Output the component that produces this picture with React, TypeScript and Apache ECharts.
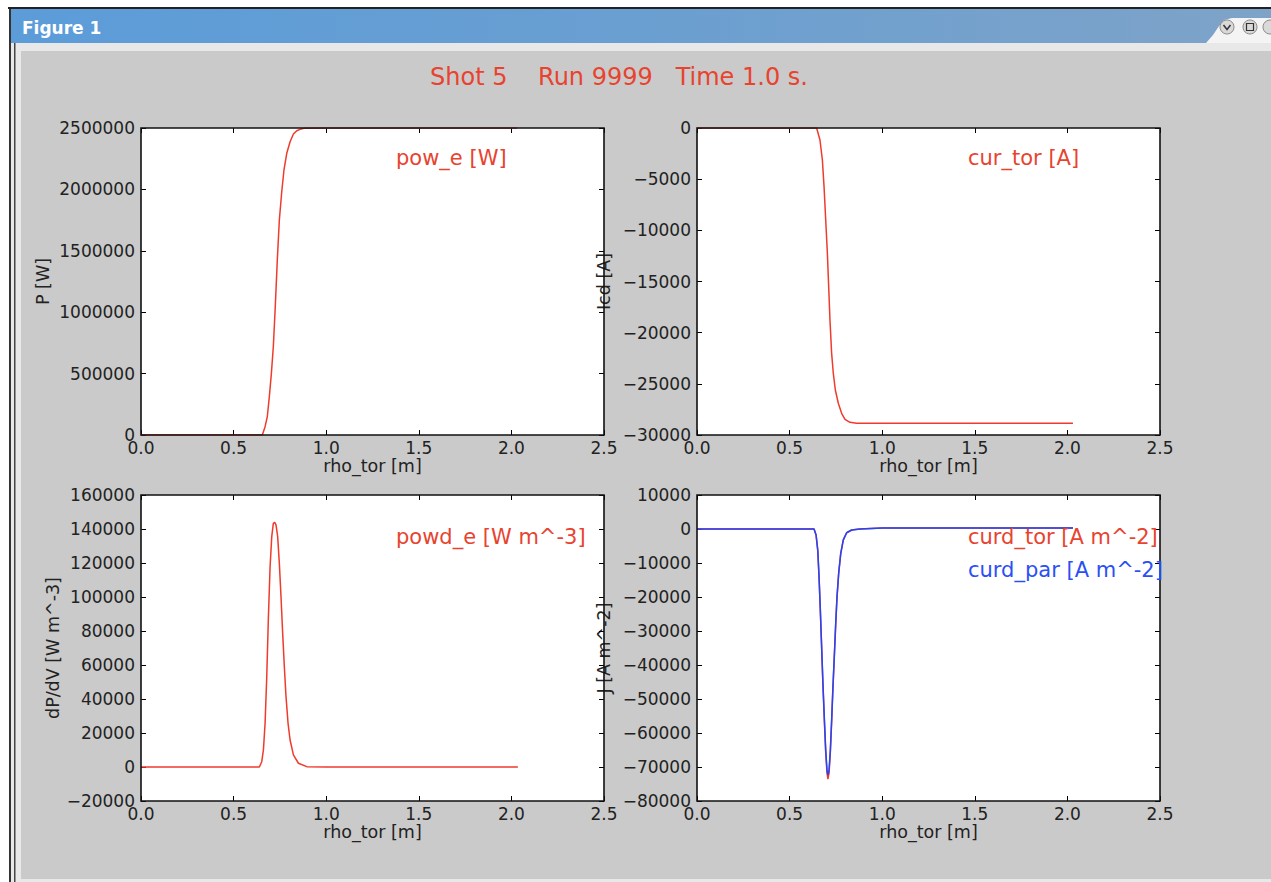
import React, { useEffect, useRef } from "react";
import * as echarts from "echarts";

// ---- data ----
const rhoPow = [0, 0.5, 0.655, 0.670, 0.682, 0.693, 0.704, 0.7145, 0.725, 0.736, 0.747, 0.760, 0.772, 0.787, 0.805, 0.823, 0.841, 0.859, 0.88, 1.0, 1.5, 2.03];
const powE = [0, 0, 0, 67600, 149000, 312000, 502000, 719000, 1045000, 1425000, 1751000, 1981000, 2158000, 2294000, 2388000, 2451000, 2478000, 2489000, 2497000, 2500000, 2500000, 2500000];

const rhoCur = [0, 0.5, 0.646, 0.664, 0.677, 0.686, 0.695, 0.704, 0.711, 0.718, 0.727, 0.736, 0.747, 0.763, 0.781, 0.799, 0.826, 0.862, 1.0, 1.5, 2.03];
const curTor = [0, 0, 0, -1170, -3130, -5730, -8990, -12240, -15500, -18760, -22020, -23970, -25600, -26900, -27880, -28470, -28760, -28860, -28860, -28850, -28850];

const rhoPowd = [0, 0.5, 0.639, 0.652, 0.661, 0.670, 0.679, 0.688, 0.697, 0.706, 0.7145, 0.722, 0.729, 0.738, 0.747, 0.756, 0.765, 0.774, 0.783, 0.794, 0.805, 0.823, 0.850, 0.895, 1.0, 1.5, 2.035];
const powdE = [0, 0, 0, 3100, 10000, 25700, 53100, 88400, 117800, 135500, 143300, 143900, 142400, 135500, 119800, 100200, 78600, 59000, 41400, 25700, 15900, 7100, 2200, 200, 0, 0, 0];

const rhoJ = [0, 0.5, 0.632, 0.643, 0.652, 0.659, 0.666, 0.673, 0.680, 0.688, 0.695, 0.702, 0.707, 0.713, 0.720, 0.727, 0.734, 0.742, 0.749, 0.756, 0.765, 0.776, 0.790, 0.808, 0.835, 0.880, 1.0, 1.5, 2.03];
const curdTor = [0, 0, 0, -1800, -6300, -14200, -24100, -35000, -45900, -56800, -65700, -71800, -73600, -71800, -65700, -56800, -46900, -37000, -28000, -20100, -13100, -7300, -3200, -1100, -300, 0, 300, 300, 300];
const curdPar = [0, 0, 0, -1760, -6180, -14000, -23800, -34600, -45400, -56200, -65000, -70900, -72400, -70900, -65000, -56200, -46400, -36600, -27700, -19900, -13000, -7200, -3200, -1100, -300, 0, 300, 300, 300];

const xTicks = { min: 0, max: 2.5, interval: 0.5 };
const yRanges = [
  [0, 2500000, 500000],
  [-30000, 0, 5000],
  [-20000, 160000, 20000],
  [-80000, 10000, 10000],
];
const xName = "rho_tor [m]";
const yNames = ["P [W]", "Icd [A]", "dP/dV [W m^-3]", "J [A m^-2]"];
const titleText = "Shot 5    Run 9999   Time 1.0 s.";
const windowTitle = "Figure 1";

// ---- styling ----
const FONT = "'DejaVu Sans', sans-serif";
const RED = "#ef3b2c";
const RED_TXT = "#e8432f";
const BLUE = "#1f45ff";
const BLUE_TXT = "#2a4ff5";
const CANVAS = "#cacaca";
const TICK_FS = 17;
const NAME_FS = 17.5;
const ANN_FS = 21;

const grids = [
  { left: 141, top: 128, width: 463, height: 307 },
  { left: 697, top: 128, width: 463, height: 307 },
  { left: 141, top: 495, width: 463, height: 306 },
  { left: 697, top: 495, width: 463, height: 306 },
];
const yNameGaps = [89, 84, 79, 84];

const zip = (xs: number[], ys: number[]) => xs.map((x, i) => [x, ys[i]]);
const fmtY = (v: number) => String(v).replace("-", "\u2212");

export default function App() {
  const ref = useRef<HTMLDivElement>(null);
  useEffect(() => {
    if (!ref.current) return;
    const chart = echarts.init(ref.current, null, { renderer: "svg" });
    const tick = { inside: true, length: 5, lineStyle: { color: "#000", width: 1 } };
    const xAxis: any[] = [];
    const yAxis: any[] = [];
    grids.forEach((g, i) => {
      xAxis.push({
        gridIndex: i, type: "value", ...xTicks, position: "bottom",
        name: xName, nameLocation: "middle", nameGap: 22,
        nameTextStyle: { fontFamily: FONT, fontSize: NAME_FS, color: "#222" },
        axisLine: { show: false, onZero: false }, axisTick: tick,
        axisLabel: { fontFamily: FONT, fontSize: TICK_FS, color: "#222", margin: 4, showMinLabel: true, showMaxLabel: true, formatter: (v: number) => v.toFixed(1) },
        splitLine: { show: false },
      });
      xAxis.push({
        gridIndex: i, type: "value", ...xTicks, position: "top",
        axisLine: { show: false, onZero: false }, axisTick: tick,
        axisLabel: { show: false }, splitLine: { show: false },
      });
      const [mn, mx, iv] = yRanges[i];
      yAxis.push({
        gridIndex: i, type: "value", min: mn, max: mx, interval: iv, position: "left",
        name: yNames[i], nameLocation: "middle", nameGap: yNameGaps[i],
        nameTextStyle: { fontFamily: FONT, fontSize: NAME_FS, color: "#222" },
        axisLine: { show: false, onZero: false }, axisTick: tick,
        axisLabel: { fontFamily: FONT, fontSize: TICK_FS, color: "#222", margin: 6, showMinLabel: true, showMaxLabel: true, formatter: fmtY },
        splitLine: { show: false },
      });
      yAxis.push({
        gridIndex: i, type: "value", min: mn, max: mx, interval: iv, position: "right",
        axisLine: { show: false, onZero: false }, axisTick: tick,
        axisLabel: { show: false }, splitLine: { show: false },
      });
    });

    const line = (idx: number, data: number[][], color: string, z = 2) => ({
      type: "line", xAxisIndex: 2 * idx, yAxisIndex: 2 * idx, data,
      showSymbol: false, symbol: "none", clip: true, z,
      lineStyle: { color, width: 1.5 }, itemStyle: { color },
    });

    const bg: any[] = [
      { type: "rect", z: -10, shape: { x: 0, y: 0, width: 1271, height: 882 }, style: { fill: "#ffffff" } },
      { type: "rect", z: -10, shape: { x: 8, y: 7, width: 1263, height: 2 }, style: { fill: "#222" } },
      {
        type: "rect", z: -10, shape: { x: 9, y: 9, width: 1262, height: 34 },
        style: {
          fill: new echarts.graphic.LinearGradient(0, 0, 1, 0, [
            { offset: 0, color: "#5b9cd9" },
            { offset: 0.5, color: "#6a9fd1" },
            { offset: 1, color: "#7ea3c8" },
          ]),
        },
      },
      { type: "rect", z: -10, shape: { x: 11, y: 43, width: 1260, height: 839 }, style: { fill: "#e8e8e8" } },
      { type: "rect", z: -10, shape: { x: 9, y: 9, width: 2, height: 873 }, style: { fill: "#333" } },
      { type: "rect", z: -10, shape: { x: 14, y: 43, width: 1.5, height: 839 }, style: { fill: "#444" } },
      { type: "rect", z: -10, shape: { x: 21, y: 51, width: 1250, height: 828 }, style: { fill: CANVAS } },
      {
        type: "polygon", z: -9,
        shape: { points: [[1206, 43], [1213, 35], [1219, 26], [1224, 20], [1232, 18], [1271, 18], [1271, 43]] },
        style: { fill: "#f4f4f4" },
      },
      { type: "circle", z: -8, shape: { cx: 1227, cy: 27, r: 7 }, style: { fill: "#d9d9d9", stroke: "#8a8a8a", lineWidth: 1 } },
      { type: "circle", z: -8, shape: { cx: 1250, cy: 27, r: 7 }, style: { fill: "#d9d9d9", stroke: "#8a8a8a", lineWidth: 1 } },
      { type: "circle", z: -8, shape: { cx: 1270, cy: 27, r: 7 }, style: { fill: "#d9d9d9", stroke: "#8a8a8a", lineWidth: 1 } },
      { type: "polyline", z: -7, shape: { points: [[1223.5, 25], [1227, 29.5], [1230.5, 25]] }, style: { stroke: "#333", lineWidth: 1.5, fill: "none" } },
      { type: "rect", z: -7, shape: { x: 1246.5, y: 23.5, width: 7, height: 7 }, style: { fill: "none", stroke: "#333", lineWidth: 1.2 } },
      {
        type: "text", z: -7, x: 22, y: 28,
        style: { text: windowTitle, fill: "#ffffff", font: `bold 17px ${FONT}`, textVerticalAlign: "middle" },
      },
    ];
    grids.forEach((g) => {
      bg.push({ type: "rect", z: -5, shape: { x: g.left, y: g.top, width: g.width, height: g.height }, style: { fill: "#ffffff" } });
      bg.push({ type: "rect", z: 10, shape: { x: g.left, y: g.top, width: g.width, height: g.height }, style: { fill: "none", stroke: "#111", lineWidth: 1.6 } });
    });
    const txt = (x: number, y: number, text: string, color: string, size = ANN_FS, align = "left") => ({
      type: "text", z: 11, x, y,
      style: { text, fill: color, font: `${size}px ${FONT}`, textAlign: align, textVerticalAlign: "middle" },
    });
    bg.push(txt(619, 77, titleText, RED_TXT, 24, "center"));
    bg.push(txt(396, 158, "pow_e [W]", RED_TXT));
    bg.push(txt(968, 158, "cur_tor [A]", RED_TXT));
    bg.push(txt(396, 537, "powd_e [W m^-3]", RED_TXT));
    bg.push(txt(968, 537, "curd_tor [A m^-2]", RED_TXT));
    bg.push(txt(968, 570, "curd_par [A m^-2]", BLUE_TXT));

    chart.setOption({
      animation: false,
      grid: grids.map((g) => ({ ...g, show: false, containLabel: false })),
      xAxis,
      yAxis,
      graphic: { elements: bg },
      series: [
        line(0, zip(rhoPow, powE), RED),
        line(1, zip(rhoCur, curTor), RED),
        line(2, zip(rhoPowd, powdE), RED),
        line(3, zip(rhoJ, curdTor), RED, 2),
        line(3, zip(rhoJ, curdPar), BLUE, 3),
      ],
    });
    return () => chart.dispose();
  }, []);
  return <div ref={ref} style={{ position: "absolute", left: 0, top: 0, width: 1271, height: 882 }} />;
}
